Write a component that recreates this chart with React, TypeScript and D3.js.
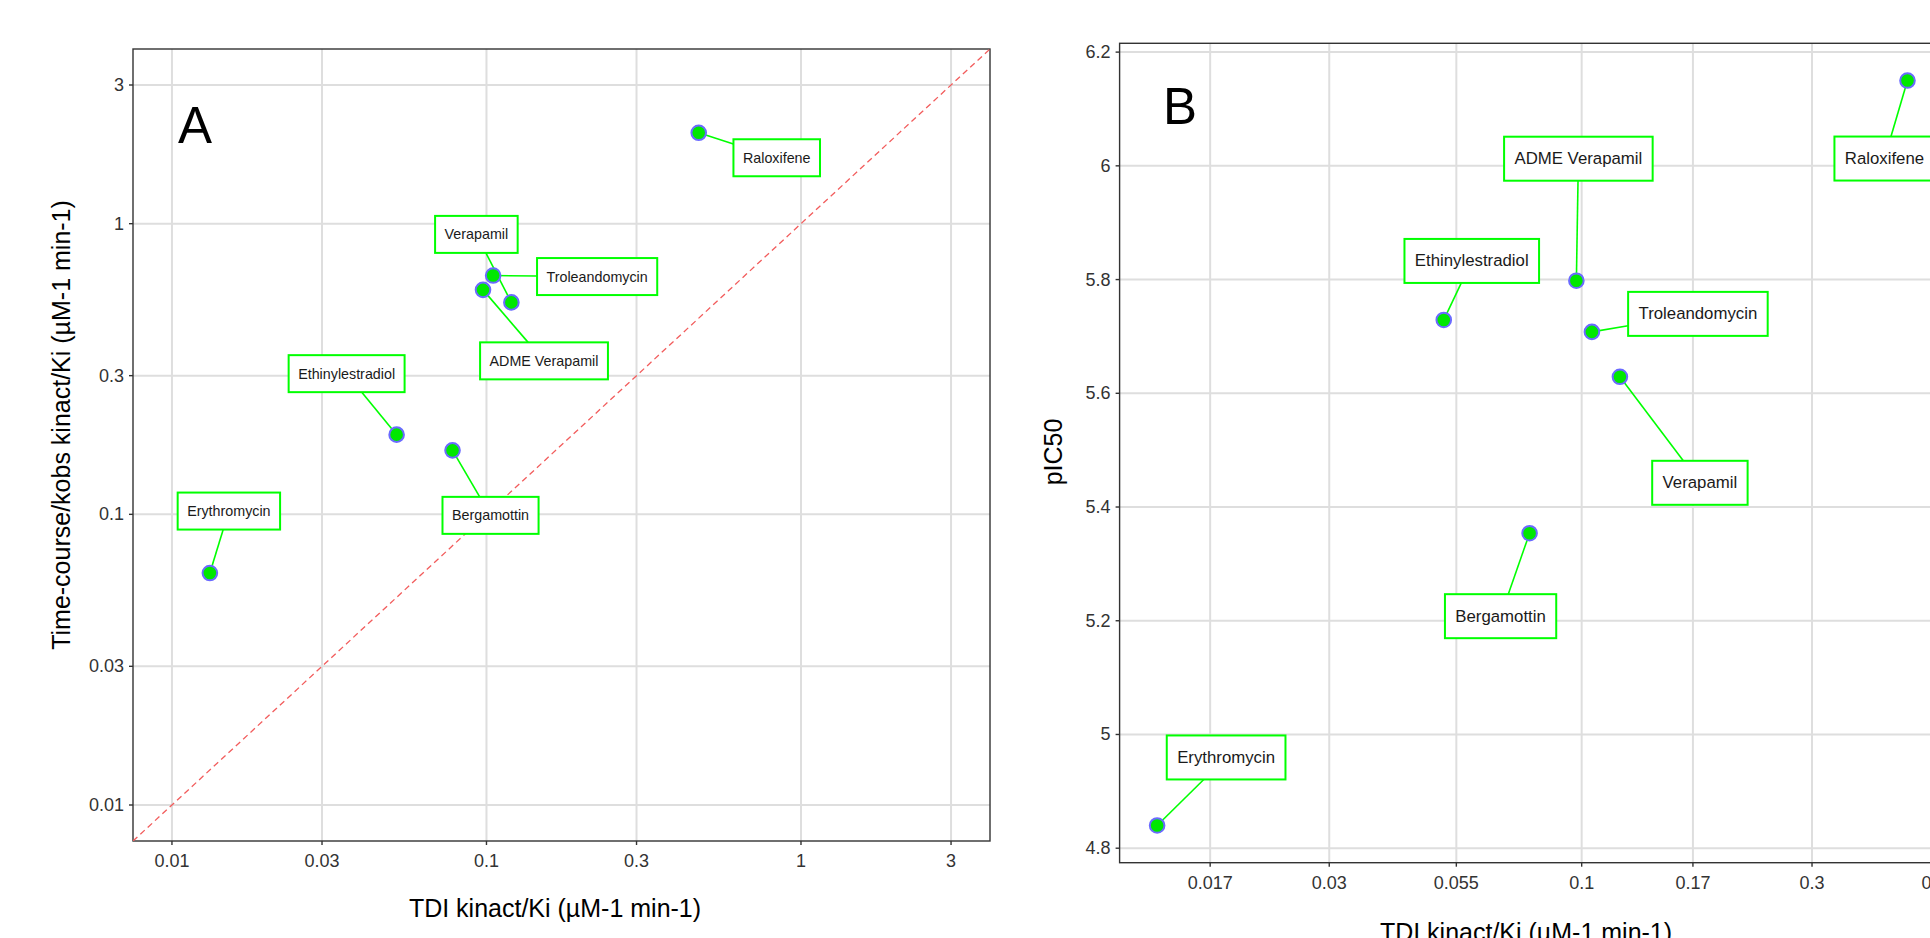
import React from 'react';
import * as d3 from 'd3';

// compounds and values
const compounds = ['Erythromycin', 'Ethinylestradiol', 'Bergamottin', 'ADME Verapamil', 'Troleandomycin', 'Verapamil', 'Raloxifene'];
const tdiKinactKi = [0.0132, 0.0518, 0.078, 0.0975, 0.105, 0.12, 0.473];
const timeCourseKinactKi = [0.0628, 0.188, 0.166, 0.592, 0.663, 0.536, 2.055];
const pIC50 = [4.84, 5.729, 5.354, 5.798, 5.708, 5.629, 6.15];

const ticksA = [0.01, 0.03, 0.1, 0.3, 1, 3];
const limitsA = [0.01, 3];
const xTicksB = [0.017, 0.03, 0.055, 0.1, 0.17, 0.3, 0.55];
const yTicksB = [4.8, 5, 5.2, 5.4, 5.6, 5.8, 6, 6.2];

// where the repelled labels ended up, offset of box centre from point (px)
const labelOffsetA = [[19, -62], [-50, -61], [38, 65], [61, 71], [104, 1], [-35, -68], [78, 25]];
const labelOffsetB = [[69, -68], [28, -59], [-29, 83], [2, -122], [106, -18], [80, 106], [-23, 78]];

const FONT = '"Liberation Sans", Arial, Helvetica, sans-serif';
const GREEN = '#00ff00';
const GRID = '#dedede';
const AXIS = '#333333';

const expandLog = (lo: number, hi: number): [number, number] => {
  const a = Math.log10(lo), b = Math.log10(hi), e = (b - a) * 0.05;
  return [Math.pow(10, a - e), Math.pow(10, b + e)];
};
const expandLin = (lo: number, hi: number): [number, number] => {
  const e = (hi - lo) * 0.05;
  return [lo - e, hi + e];
};

let ctx: CanvasRenderingContext2D | null = null;
const textWidth = (t: string, size: number) => {
  if (!ctx) ctx = document.createElement('canvas').getContext('2d');
  if (!ctx) return t.length * size * 0.5;
  ctx.font = `${size}px ${FONT}`;
  return ctx.measureText(t).width;
};

const Labels = ({ xs, ys, offsets, size, padX, boxH }: { xs: number[]; ys: number[]; offsets: number[][]; size: number; padX: number; boxH: number }) => {
  const boxes = compounds.map((c, i) => {
    const w = textWidth(c, size) + padX * 2;
    const cx = xs[i] + offsets[i][0];
    const cy = ys[i] + offsets[i][1];
    const dx = cx - xs[i], dy = cy - ys[i];
    const s = Math.min(dx === 0 ? Infinity : (w / 2) / Math.abs(dx), dy === 0 ? Infinity : (boxH / 2) / Math.abs(dy));
    return { c, w, cx, cy, ex: cx - s * dx, ey: cy - s * dy, inside: s >= 1 };
  });
  return (
    <g>
      {boxes.map((b, i) => !b.inside && (
        <line key={'s' + i} x1={xs[i]} y1={ys[i]} x2={b.ex} y2={b.ey} stroke={GREEN} strokeWidth={1.6} />
      ))}
      {compounds.map((c, i) => (
        <circle key={'p' + i} cx={xs[i]} cy={ys[i]} r={7.3} fill="#00e800" stroke="#6a6aff" strokeWidth={2} />
      ))}
      {boxes.map((b, i) => (
        <g key={'l' + i}>
          <rect x={b.cx - b.w / 2} y={b.cy - boxH / 2} width={b.w} height={boxH} fill="white" stroke={GREEN} strokeWidth={2} />
          <text x={b.cx} y={b.cy} textAnchor="middle" dominantBaseline="central" fontSize={size} fontFamily={FONT} fill="#1a1a1a">{b.c}</text>
        </g>
      ))}
    </g>
  );
};

const Panel = ({ x, y, xTicks, yTicks, fmtX, fmtY, tickSize }: { x: any; y: any; xTicks: number[]; yTicks: number[]; fmtX: (v: number) => string; fmtY: (v: number) => string; tickSize: number }) => {
  const [x0, x1] = x.range();
  const [y0, y1] = y.range();
  return (
    <g>
      {xTicks.map(t => <line key={'gx' + t} x1={x(t)} x2={x(t)} y1={y0} y2={y1} stroke={GRID} strokeWidth={2} />)}
      {yTicks.map(t => <line key={'gy' + t} x1={x0} x2={x1} y1={y(t)} y2={y(t)} stroke={GRID} strokeWidth={2} />)}
      <rect x={x0} y={y1} width={x1 - x0} height={y0 - y1} fill="none" stroke={AXIS} strokeWidth={1.4} />
      {xTicks.map(t => (
        <g key={'tx' + t}>
          <line x1={x(t)} x2={x(t)} y1={y0} y2={y0 + 4} stroke={AXIS} strokeWidth={1.4} />
          <text x={x(t)} y={y0 + 26} textAnchor="middle" fontSize={tickSize} fontFamily={FONT} fill={AXIS}>{fmtX(t)}</text>
        </g>
      ))}
      {yTicks.map(t => (
        <g key={'ty' + t}>
          <line x1={x0 - 4} x2={x0} y1={y(t)} y2={y(t)} stroke={AXIS} strokeWidth={1.4} />
          <text x={x0 - 9} y={y(t)} textAnchor="end" dominantBaseline="central" fontSize={tickSize} fontFamily={FONT} fill={AXIS}>{fmtY(t)}</text>
        </g>
      ))}
    </g>
  );
};

export default function App() {
  const domA = expandLog(limitsA[0], limitsA[1]);
  const xA = d3.scaleLog().domain(domA).range([133, 990]);
  const yA = d3.scaleLog().domain(domA).range([841, 49]);

  const xB = d3.scaleLog().domain(expandLog(d3.min(tdiKinactKi)!, d3.max(tdiKinactKi)!)).range([1119.6, 1945]);
  const yB = d3.scaleLinear().domain(expandLin(d3.min(pIC50)!, d3.max(pIC50)!)).range([862.7, 43.3]);

  const fmt = (v: number) => String(+v.toPrecision(3));

  const xsA = tdiKinactKi.map(v => xA(v));
  const ysA = timeCourseKinactKi.map(v => yA(v));
  const xsB = tdiKinactKi.map(v => xB(v));
  const ysB = pIC50.map(v => yB(v));

  return (
    <div style={{ position: 'absolute', left: 0, top: 0, width: 1930, height: 938, overflow: 'hidden', background: 'white' }}>
      <svg width={1930} height={938} style={{ display: 'block' }}>
        <defs>
          <clipPath id="clipA"><rect x={133} y={49} width={857} height={792} /></clipPath>
        </defs>
        {/* Panel A */}
        <Panel x={xA} y={yA} xTicks={ticksA} yTicks={ticksA} fmtX={fmt} fmtY={fmt} tickSize={18} />
        <line clipPath="url(#clipA)" x1={xA(domA[0])} y1={yA(domA[0])} x2={xA(domA[1])} y2={yA(domA[1])}
          stroke="#f25c5c" strokeWidth={1.3} strokeDasharray="6,4" />
        <Labels xs={xsA} ys={ysA} offsets={labelOffsetA} size={14.3} padX={9.5} boxH={37} />
        <text x={178} y={143} fontSize={51} fontFamily={FONT} fill="black">A</text>
        <text x={555} y={917} textAnchor="middle" fontSize={25} fontFamily={FONT} fill="black">TDI kinact/Ki (µM-1 min-1)</text>
        <text transform="translate(70,425) rotate(-90)" textAnchor="middle" fontSize={25} fontFamily={FONT} fill="black">Time-course/kobs kinact/Ki (µM-1 min-1)</text>

        {/* Panel B */}
        <Panel x={xB} y={yB} xTicks={xTicksB} yTicks={yTicksB} fmtX={fmt} fmtY={fmt} tickSize={18} />
        <Labels xs={xsB} ys={ysB} offsets={labelOffsetB} size={16.8} padX={10.4} boxH={44} />
        <text x={1163} y={124} fontSize={51} fontFamily={FONT} fill="black">B</text>
        <text x={1526} y={941} textAnchor="middle" fontSize={25} fontFamily={FONT} fill="black">TDI kinact/Ki (µM-1 min-1)</text>
        <text transform="translate(1062,452) rotate(-90)" textAnchor="middle" fontSize={25} fontFamily={FONT} fill="black">pIC50</text>
      </svg>
    </div>
  );
}
